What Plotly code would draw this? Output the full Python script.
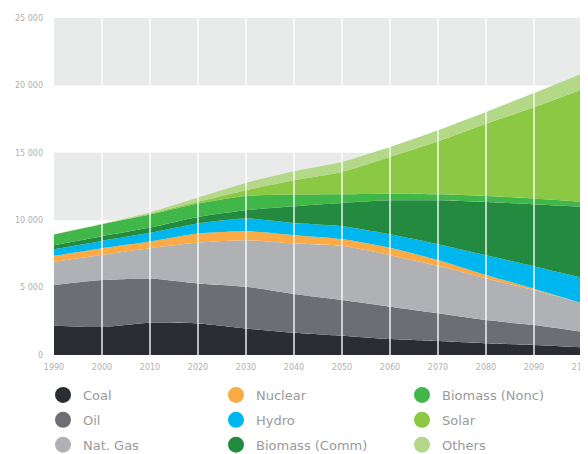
import plotly.graph_objects as go

years = [1990, 2000, 2010, 2020, 2030, 2040, 2050, 2060, 2070, 2080, 2090, 2100]

coal = [2170, 2074, 2395, 2345, 1975, 1654, 1430, 1185, 1037, 865, 740, 570]
oil = [3015, 3481, 3284, 2965, 3087, 2864, 2644, 2395, 2053, 1725, 1482, 1156]
nat_gas = [1726, 1875, 2246, 3036, 3456, 3754, 4026, 3827, 3525, 3090, 2593, 2104]
nuclear = [444, 495, 495, 667, 667, 616, 500, 540, 430, 250, 100, 10]
hydro = [497, 541, 640, 742, 938, 912, 955, 1010, 1175, 1475, 1675, 1885]
biomass_comm = [296, 349, 397, 490, 617, 1236, 1725, 2517, 3258, 3948, 4593, 5260]
biomass_nonc = [792, 888, 963, 991, 1060, 864, 645, 495, 445, 445, 422, 370]
solar = [0, 7, 60, 124, 422, 1060, 1655, 2715, 3925, 5360, 6783, 8345]
others = [5, 20, 90, 320, 543, 670, 740, 740, 816, 865, 1040, 1165]

series_names = ["Coal", "Oil", "Nat. Gas", "Nuclear", "Hydro", "Biomass (Comm)",
                "Biomass (Nonc)", "Solar", "Others"]
series_values = [coal, oil, nat_gas, nuclear, hydro, biomass_comm, biomass_nonc, solar, others]
colors = ["#2b2d35", "#6d6e73", "#b0b1b4", "#fbaa45", "#00b6ee", "#248a40",
          "#41b649", "#8bc844", "#b2d888"]
legend_ids = ["legend", "legend", "legend", "legend2", "legend2", "legend2",
              "legend3", "legend3", "legend3"]

y_ticks = [0, 5000, 10000, 15000, 20000, 25000]
y_tick_labels = ["0", "5 000", "10 000", "15 000", "20 000", "25 000"]
x_ticks = [1990, 2000, 2010, 2020, 2030, 2040, 2050, 2060, 2070, 2080, 2090, 2100]
x_tick_labels = [str(v) for v in x_ticks]

fig = go.Figure()

for name, vals, col in zip(series_names, series_values, colors):
    fig.add_trace(go.Scatter(
        x=years, y=vals, name=name, stackgroup="one", mode="lines",
        line=dict(width=0, color=col, shape="spline", smoothing=0.6),
        fillcolor=col, showlegend=False, hoverinfo="skip"))

for name, col, lg in zip(series_names, colors, legend_ids):
    fig.add_trace(go.Scatter(
        x=[1990], y=[-1000], name=name, mode="markers",
        marker=dict(symbol="circle", size=17, color=col),
        legend=lg, legendgroup=name, showlegend=True, hoverinfo="skip"))

shapes = []
for lo, hi in [(10000, 15000), (20000, 25000)]:
    shapes.append(dict(type="rect", xref="x", yref="y", x0=1990, x1=2100, y0=lo, y1=hi,
                       fillcolor="#e9eaea", line=dict(width=0), layer="below"))
for xv in x_ticks[1:-1]:
    shapes.append(dict(type="line", xref="x", yref="y", x0=xv, x1=xv, y0=0, y1=25000,
                       line=dict(color="rgba(255,255,255,0.9)", width=1.5), layer="above"))

# page has an 8px body offset; plot area wanted at page x 54..582, y 17.5..355
OFF = 8
PL, PR, PT, PB = 54, 582, 17.5, 355
PW, PH = PR - PL, PB - PT
W, H = 588, 454


def px_x(v):
    return (v - PL) / PW


def px_y(v):
    return (PB - v) / PH


legend_common = dict(
    orientation="v", xref="paper", yref="paper", xanchor="left", yanchor="top",
    font=dict(family="DejaVu Sans", size=13, color="#9a9a9a"),
    traceorder="grouped", tracegroupgap=5, itemsizing="trace",
    bgcolor="rgba(0,0,0,0)", borderwidth=0,
)
ly = px_y(380)

fig.update_layout(
    width=W, height=H,
    margin=dict(l=PL - OFF, r=W - (PR - OFF), t=PT - OFF, b=H - (PB - OFF), autoexpand=False),
    paper_bgcolor="white", plot_bgcolor="white",
    shapes=shapes,
    xaxis=dict(range=[1990, 2100], tickvals=x_ticks, ticktext=x_tick_labels,
               showgrid=False, zeroline=False, showline=False, ticks="",
               tickfont=dict(family="DejaVu Sans", size=8, color="#b0b0b0"),
               ticklabelstandoff=6, ticklabeloverflow="allow",
               fixedrange=True, automargin=False),
    yaxis=dict(range=[0, 25000], tickvals=y_ticks, ticktext=y_tick_labels,
               showgrid=False, zeroline=False, showline=False, ticks="",
               tickfont=dict(family="DejaVu Sans", size=8, color="#b0b0b0"),
               ticklabelstandoff=10, ticklabeloverflow="allow",
               fixedrange=True, automargin=False),
    legend=dict(legend_common, x=px_x(43), y=ly),
    legend2=dict(legend_common, x=px_x(216), y=ly),
    legend3=dict(legend_common, x=px_x(402), y=ly),
    showlegend=True,
    hovermode=False,
)

fig.write_html("out.html")
